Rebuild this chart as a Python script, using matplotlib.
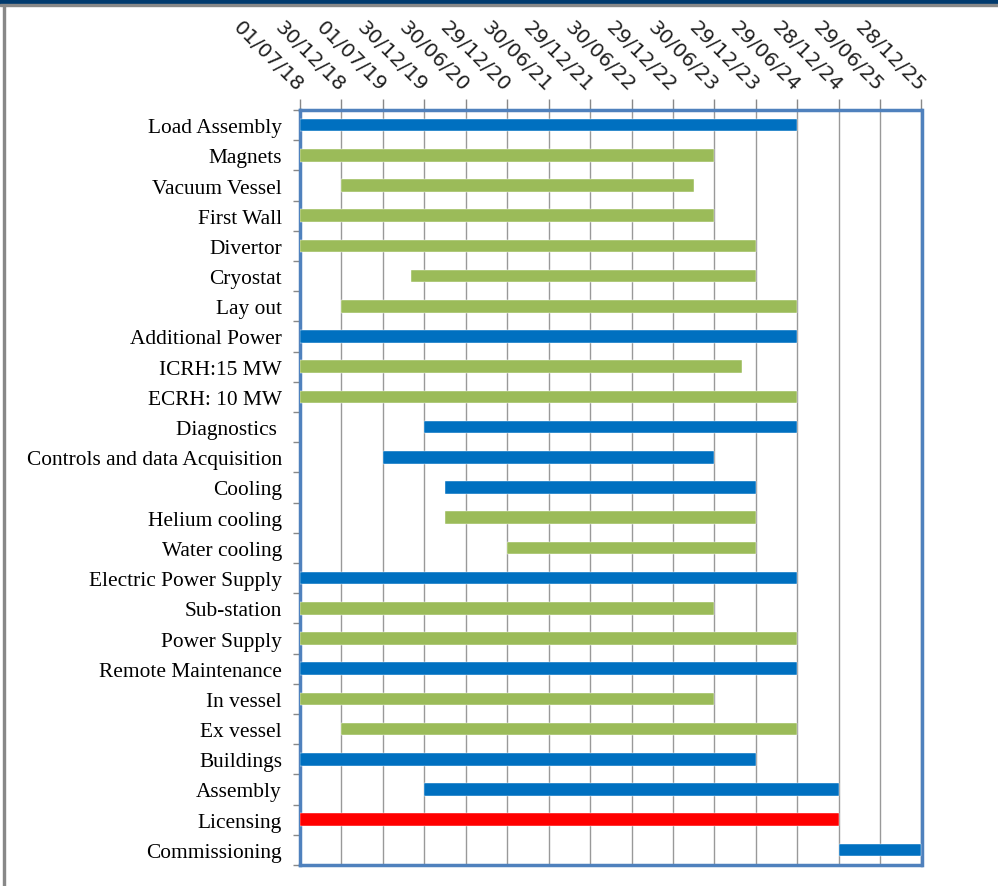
import matplotlib
matplotlib.use("Agg")
import matplotlib.pyplot as plt
import matplotlib.dates as mdates
import numpy as np
from datetime import date

# tick dates along the top axis
tick_labels = ['01/07/18', '30/12/18', '01/07/19', '30/12/19', '30/06/20', '29/12/20',
               '30/06/21', '29/12/21', '30/06/22', '29/12/22', '30/06/23', '29/12/23',
               '29/06/24', '28/12/24', '29/06/25', '28/12/25']

tasks = ['Load Assembly', 'Magnets', 'Vacuum Vessel', 'First Wall', 'Divertor', 'Cryostat',
         'Lay out', 'Additional Power', 'ICRH:15 MW', 'ECRH: 10 MW', 'Diagnostics ',
         'Controls and data Acquisition', 'Cooling', 'Helium cooling', 'Water cooling',
         'Electric Power Supply', 'Sub-station', 'Power Supply', 'Remote Maintenance',
         'In vessel', 'Ex vessel', 'Buildings', 'Assembly', 'Licensing', 'Commissioning']

starts = ['2018-07-01', '2018-07-01', '2018-12-30', '2018-07-01', '2018-07-01', '2019-11-01',
          '2018-12-30', '2018-07-01', '2018-07-01', '2018-07-01', '2019-12-30',
          '2019-07-01', '2020-03-31', '2020-03-31', '2020-12-29',
          '2018-07-01', '2018-07-01', '2018-07-01', '2018-07-01',
          '2018-07-01', '2018-12-30', '2018-07-01', '2019-12-30', '2018-07-01', '2024-12-28']

ends = ['2024-06-29', '2023-06-30', '2023-03-31', '2023-06-30', '2023-12-29', '2023-12-29',
        '2024-06-29', '2024-06-29', '2023-10-28', '2024-06-29', '2024-06-29',
        '2023-06-30', '2023-12-29', '2023-12-29', '2023-12-29',
        '2024-06-29', '2023-06-30', '2024-06-29', '2024-06-29',
        '2023-06-30', '2024-06-29', '2023-12-29', '2024-12-28', '2024-12-28', '2025-12-28']

# 'g' = group heading, 't' = sub task, 'l' = licensing
kinds = ['g', 't', 't', 't', 't', 't', 't', 'g', 't', 't', 'g', 'g', 'g', 't', 't',
         'g', 't', 't', 'g', 't', 't', 'g', 'g', 'l', 'g']

kind_colors = {'g': '#0070c0', 't': '#9bbb59', 'l': '#ff0000'}


def to_num(s):
    return mdates.date2num(date.fromisoformat(s))


def label_to_num(s):
    d, m, y = s.split('/')
    return mdates.date2num(date(2000 + int(y), int(m), int(d)))


tick_pos = [label_to_num(t) for t in tick_labels]
left = np.array([to_num(s) for s in starts])
width = np.array([to_num(e) for e in ends]) - left
ypos = np.arange(len(tasks))

W, H = 998, 887
fig = plt.figure(figsize=(W / 100, H / 100), dpi=100)

# decoration at the top and left of the slide
fig.patches.append(plt.Rectangle((0, 1 - 5 / H), 1, 5 / H, transform=fig.transFigure,
                                 color='#003a6e', zorder=0))
fig.patches.append(plt.Rectangle((0, 1 - 7 / H), 1, 2 / H, transform=fig.transFigure,
                                 color='#888888', zorder=0))
fig.patches.append(plt.Rectangle((3 / W, 0), 2 / W, 1 - 7 / H, transform=fig.transFigure,
                                 color='#888888', zorder=0))

ax = fig.add_axes([300 / W, 1 - 866 / H, 621.5 / W, 755 / H])

ax.barh(ypos, width, left=left, height=0.42,
        color=[kind_colors[k] for k in kinds],
        edgecolor='white', linewidth=0.3, zorder=3)

ax.set_ylim(len(tasks) - 0.5, -0.5)
ax.set_xlim(tick_pos[0], tick_pos[-1])

ax.set_yticks(ypos)
ax.set_yticklabels(tasks, family='Liberation Serif', fontsize=15.4)
ax.set_yticks(np.arange(len(tasks) + 1) - 0.5, minor=True)
ax.tick_params(axis='y', which='major', length=0, pad=13)
ax.tick_params(axis='y', which='minor', length=5, color='#888888', width=1)

ax.xaxis.tick_top()
ax.set_xticks(tick_pos)
ax.set_xticklabels(tick_labels, rotation=-45, rotation_mode='anchor',
                   ha='right', va='center', fontsize=14.5, color='#222222')
ax.tick_params(axis='x', length=8, color='#888888', width=1, pad=8)

ax.grid(axis='x', color='#999999', linewidth=1, zorder=0)
ax.set_axisbelow(True)

for side in ['left', 'right', 'bottom', 'top']:
    ax.spines[side].set_color('#4f81bd')
    ax.spines[side].set_linewidth(2.5)

fig.savefig('out.png', dpi=100)
